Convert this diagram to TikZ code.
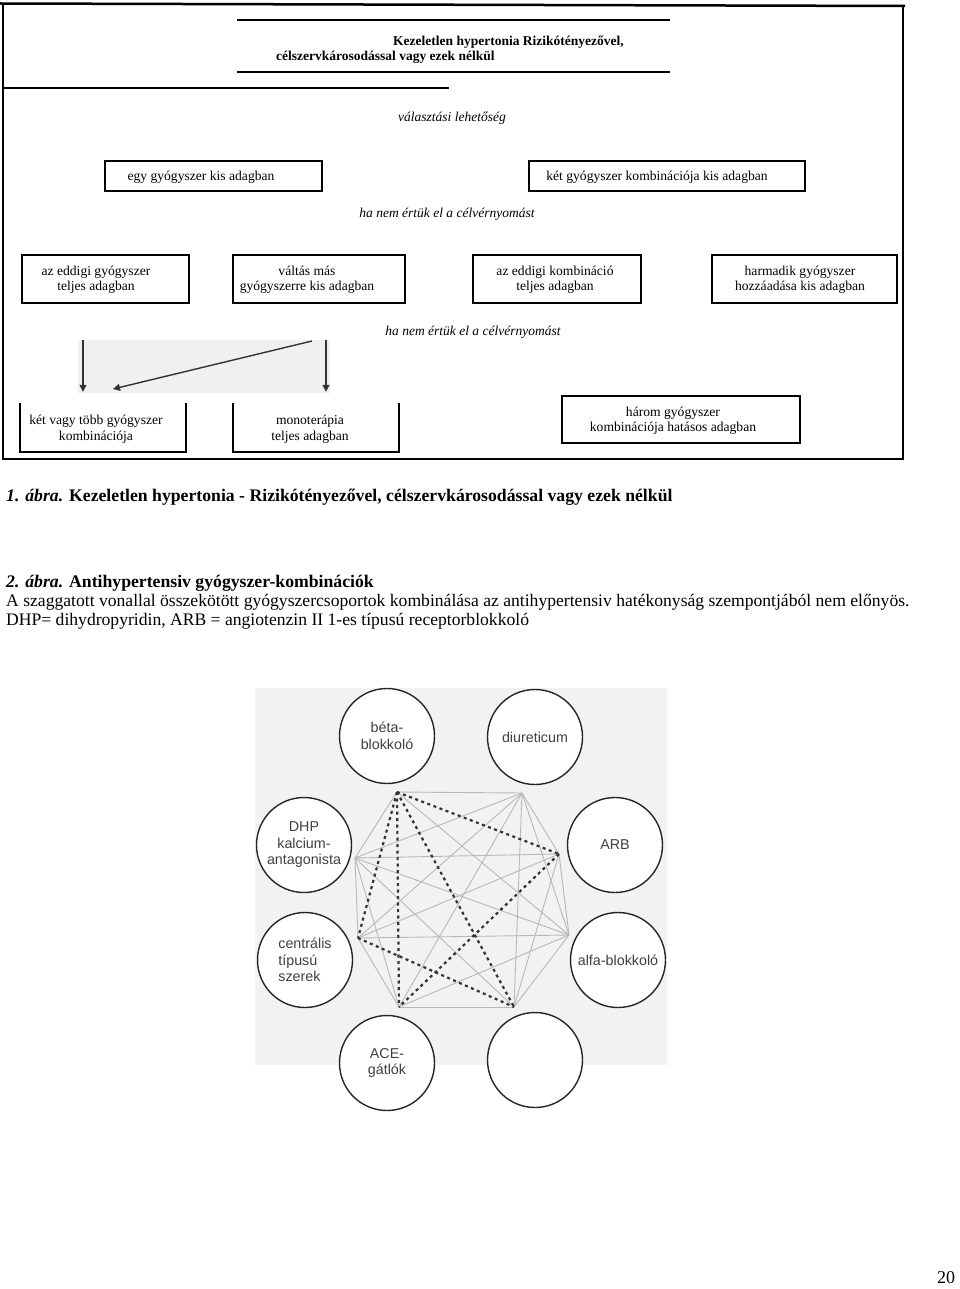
\documentclass[tikz,border=0pt]{standalone}
\usepackage{fontspec}
\setmainfont{Liberation Serif}
\newfontfamily\figsans{Liberation Sans}
\usetikzlibrary{arrows.meta}
\begin{document}
\begin{tikzpicture}[x=1pt,y=-1pt,
  box/.style={draw, line width=1.5pt, inner sep=0pt},
  opbox/.style={inner sep=0pt},
  txt/.style={font=\fontsize{13.6}{15.5}\selectfont, align=center, inner sep=0pt},
  itxt/.style={font=\fontsize{13.5}{15}\selectfont\itshape, inner sep=0pt},
  ttl/.style={font=\fontsize{13.5}{15}\selectfont\bfseries, anchor=west, inner sep=0pt},
  arr/.style={draw=black!80, line width=1.4pt, -{Triangle[length=7pt,width=7pt]}},
  circ/.style={circle, draw=black!85, line width=1.4pt, fill=white, minimum size=95pt, inner sep=0pt,
    font=\figsans\fontsize{14.3}{16.5}\selectfont, text=black!75, align=center},
  gl/.style={draw=black!28, line width=0.9pt},
  dl/.style={draw=black!80, line width=2.2pt, dash pattern=on 3pt off 3.5pt},
  captxt/.style={anchor=west, inner sep=0pt},
  capfont/.style={font=\fontsize{17.6}{19}\selectfont},
  capbold/.style={font=\fontsize{17.7}{19}\selectfont\bfseries}
]
\useasboundingbox (0,0) rectangle (960,1289);

% ---------- figure 1 frame ----------
\draw[line width=2.5pt] (0,3.5) -- (905,6);
\draw[line width=1.5pt] (3,4) -- (3,460);
\draw[line width=1.5pt] (903,5) -- (903,460);
\draw[line width=2pt] (2,459) -- (904,459);
\draw[line width=2.5pt] (237,20) -- (670,20);
\draw[line width=2.5pt] (237,72) -- (670,72);
\draw[line width=2.5pt] (3,88) -- (449,88);

\node[ttl] (t1) at (393,42) {Kezeletlen hypertonia Rizikótényezővel,};
\node[ttl] (t2) at (276,57) {célszervkárosodással vagy ezek nélkül};
\node[itxt] (valaszt) at (452,118) {választási lehetőség};

% row 1
\node[box, minimum width=217pt, minimum height=30pt] (b11) at (213.5,176) {};
\node[txt] at (201,177) {egy gyógyszer kis adagban};
\node[box, minimum width=276pt, minimum height=30pt] (b12) at (667,176) {};
\node[txt] at (657,177) {két gyógyszer kombinációja kis adagban};

\node[itxt] (ha1) at (447,214) {ha nem értük el a célvérnyomást};

% row 2
\node[box, minimum width=167pt, minimum height=48pt] (b21) at (105.5,279) {};
\node[txt] at (96,279.5) {az eddigi gyógyszer\\teljes adagban};
\node[box, minimum width=172pt, minimum height=48pt] (b22) at (319,279) {};
\node[txt] at (307,279.5) {váltás más\\gyógyszerre kis adagban};
\node[box, minimum width=168pt, minimum height=48pt] (b23) at (557,279) {};
\node[txt] at (555,279.5) {az eddigi kombináció\\teljes adagban};
\node[box, minimum width=185pt, minimum height=48pt] (b24) at (804.5,279) {};
\node[txt] at (800,279.5) {harmadik gyógyszer\\hozzáadása kis adagban};

\node[itxt] (ha2) at (473,332) {ha nem értük el a célvérnyomást};

% arrows
\fill[gray!12] (78,340) rectangle (330,393);

% row 3
\node[opbox, minimum width=166pt, minimum height=49pt] (b31) at (103,427.5) {};
\draw[line width=1.5pt] (b31.north west) -- (b31.south west) -- (b31.south east) -- (b31.north east);
\node[txt] at (96,429) {két vagy több gyógyszer\\kombinációja};
\node[opbox, minimum width=166pt, minimum height=49pt] (b32) at (316,427.5) {};
\draw[line width=1.5pt] (b32.north west) -- (b32.south west) -- (b32.south east) -- (b32.north east);
\node[txt] at (310,429) {monoterápia\\teljes adagban};
\node[box, minimum width=238pt, minimum height=47pt] (b33) at (681,419.5) {};
\node[txt] at (673,420.5) {három gyógyszer\\kombinációja hatásos adagban};

\coordinate (a1s) at (83,340);
\coordinate (a2s) at (326,340);
\coordinate (a3s) at (312,341);
\coordinate (a3e) at (113,389);
\draw[arr, shorten >=11pt] (a1s) -- (a1s |- b31.north);
\draw[arr, shorten >=11pt] (a2s) -- (a2s |- b32.north);
\draw[arr] (a3s) -- (a3e);

% ---------- captions ----------
\node[captxt, capbold] (c1) at (6,497) {\textit{1. ábra.} Kezeletlen hypertonia - Rizikótényezővel, célszervkárosodással vagy ezek nélkül};
\node[captxt, capbold] (c2) at (6,583) {\textit{2. ábra.} Antihypertensiv gyógyszer-kombinációk};
\node[captxt, capfont] (c3) at (6,602) {A szaggatott vonallal összekötött gyógyszercsoportok kombinálása az antihypertensiv hatékonyság szempontjából nem előnyös.};
\node[captxt, capfont] (c4) at (6,621) {DHP= dihydropyridin, ARB = angiotenzin II 1-es típusú receptorblokkoló};

% ---------- figure 2 ----------
\fill[gray!10] (255,688) rectangle (667,1065);
\coordinate (v1) at (397,792);
\coordinate (v2) at (522,793);
\coordinate (v3) at (559,854);
\coordinate (v4) at (569,935);
\coordinate (v5) at (514,1007);
\coordinate (v6) at (399,1007);
\coordinate (v7) at (358,938);
\coordinate (v8) at (355,858);
\foreach \a/\b in {v1/v2,v1/v4,v1/v8,v2/v3,v2/v4,v2/v5,v2/v6,v2/v7,v2/v8,v3/v4,v3/v5,v3/v7,v3/v8,v4/v5,v4/v6,v4/v7,v4/v8,v5/v6,v5/v8,v6/v7,v6/v8,v7/v8}
  \draw[gl] (\a) -- (\b);
\foreach \a/\b in {v1/v3,v1/v5,v1/v6,v1/v7,v3/v6,v7/v5}
  \draw[dl] (\a) -- (\b);

\node[circ] (beta) at (387,736) {béta-\\blokkoló};
\node[circ] (diur) at (535,737) {diureticum};
\node[circ] (dhp) at (304,845) {DHP\\kalcium-\\antagonista};
\node[circ] (arb) at (615,845) {ARB};
\node[circ, align=left] (centr) at (305,960) {centrális\\típusú\\szerek};
\node[circ] (alfa) at (618,960) {alfa-blokkoló};
\node[circ] (ace) at (387,1063) {ACE-\\gátlók};
\node[circ] (empty) at (535,1060) {};

\node[font=\fontsize{18}{20}\selectfont, inner sep=0pt] (pg) at (946,1278) {20};
\end{tikzpicture}
\end{document}
